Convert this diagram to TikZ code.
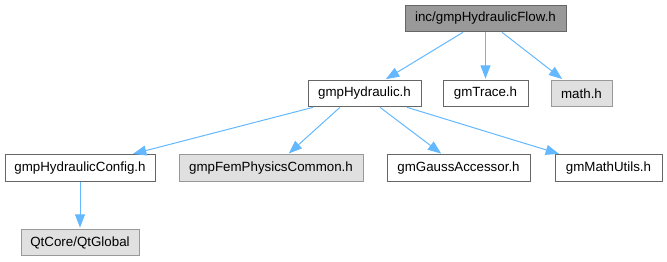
\documentclass[tikz,border=0pt]{standalone}
\usepackage{fontspec}
\setmainfont{Liberation Sans}
\usetikzlibrary{arrows.meta}
\definecolor{edgeblue}{HTML}{63B8FF}
\definecolor{bwhite}{HTML}{666666}
\definecolor{bgray}{HTML}{999999}
\definecolor{fgray}{HTML}{E0E0E0}
\definecolor{ftop}{HTML}{999999}
\tikzset{
  box/.style={draw=bwhite, fill=white, line width=0.75pt, inner sep=0pt, minimum height=20pt, font=\fontsize{10}{12}\selectfont, text=black},
  extbox/.style={box, draw=bgray, fill=fgray},
  topbox/.style={box, draw=bwhite, fill=ftop},
  edge/.style={draw=edgeblue, line width=0.75pt, shorten >=0.75pt, -{Triangle[length=10pt,width=7.5pt]}}
}
\begin{document}
\begin{tikzpicture}[x=0.75pt,y=-0.75pt]
\useasboundingbox (0,0) rectangle (667,261);
\node[topbox, minimum width=120.75pt] (top) at (485.5,18.5) {inc/gmpHydraulicFlow.h};
\node[box, minimum width=84.75pt] (hyd) at (364.5,93.5) {gmpHydraulic.h};
\node[box, minimum width=63.75pt] (trace) at (485.5,93.5) {gmTrace.h};
\node[extbox, minimum width=45.75pt] (math) at (581.5,93.5) {math.h};
\node[box, minimum width=112.5pt] (cfg) at (80,168) {gmpHydraulicConfig.h};
\node[extbox, minimum width=138pt] (fem) at (271,168) {gmpFemPhysicsCommon.h};
\node[box, minimum width=107.25pt] (gauss) at (458.5,168) {gmGaussAccessor.h};
\node[box, minimum width=80.25pt] (mutils) at (608.5,168) {gmMathUtils.h};
\node[extbox, minimum width=88.5pt] (qt) at (80,242.5) {QtCore/QtGlobal};
\draw[edge] ([xshift=-16.9pt]top.south) -- ([xshift=15.4pt]hyd.north);
\draw[edge] (top.south) -- (trace.north);
\draw[edge] ([xshift=12.4pt]top.south) -- ([xshift=-13.9pt]math.north);
\draw[edge] ([xshift=-38.6pt]hyd.south) -- ([xshift=39pt]cfg.north);
\draw[edge] ([xshift=-18.4pt]hyd.south) -- ([xshift=12.75pt]fem.north);
\draw[edge] ([xshift=11.6pt]hyd.south) -- ([xshift=-12.4pt]gauss.north);
\draw[edge] ([xshift=31.9pt]hyd.south) -- ([xshift=-36.4pt]mutils.north);
\draw[edge] (cfg.south) -- (qt.north);
\end{tikzpicture}
\end{document}
